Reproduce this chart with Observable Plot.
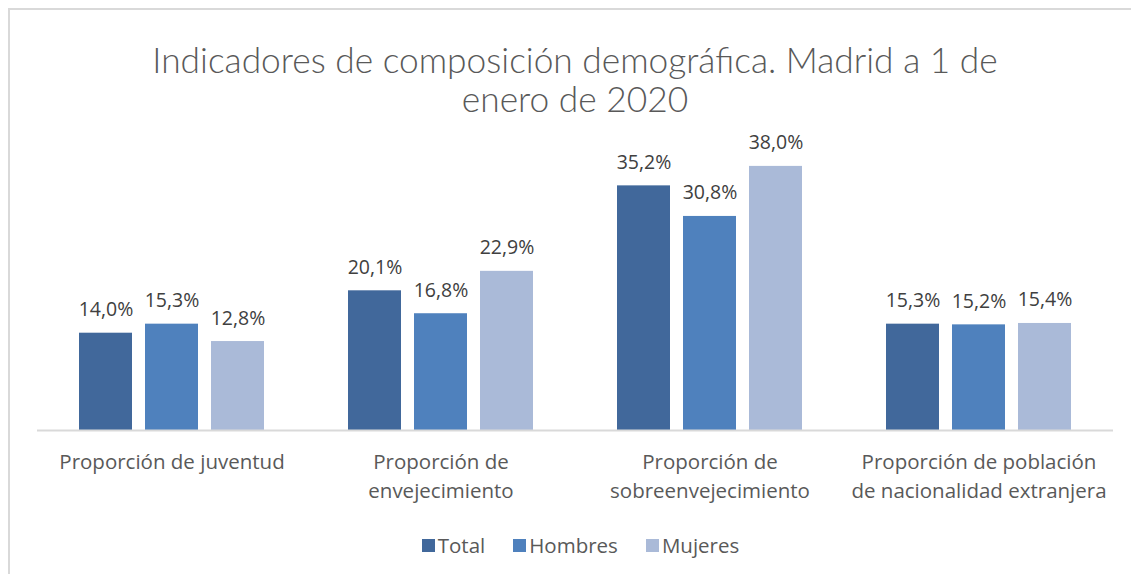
<!DOCTYPE html>
<html>
<head>
<meta charset="utf-8">
<script src="https://cdn.jsdelivr.net/npm/d3@7"></script>
<script src="https://cdn.jsdelivr.net/npm/@observablehq/plot@0.6"></script>
<style>
  html, body { margin: 0; padding: 0; background: #fff; }
  #wrap { position: relative; width: 1131px; height: 574px; overflow: hidden; font-family: "Open Sans", sans-serif; }
  #frame { position: absolute; left: 8px; top: 8px; right: -2px; bottom: -2px; border-left: 2px solid #d9d9d9; border-top: 2px solid #d9d9d9; }
  #title { position: absolute; left: 0; width: 1150px; top: 40px; text-align: center; font-family: Lato, sans-serif; font-weight: 300; font-size: 35.3px; line-height: 39px; color: #595959; }
  #chart { position: absolute; left: 0; top: 120px; }
  #legend { position: absolute; left: 0; width: 1131px; top: 531px; display: flex; justify-content: center; gap: 28px; font-size: 20.5px; color: #595959; padding-left: 30px; box-sizing: border-box; }
  #legend span.item { display: inline-flex; align-items: center; }
  #legend i { display: inline-block; width: 13px; height: 13px; margin-right: 3px; }
</style>
</head>
<body>
<div id="wrap">
  <div id="frame"></div>
  <div id="title">Indicadores de composición demográfica. Madrid a 1 de<br>enero de 2020</div>
  <div id="chart"></div>
  <div id="legend"></div>
</div>
<script>
const categories = [
  "Proporción de juventud",
  "Proporción de\nenvejecimiento",
  "Proporción de\nsobreenvejecimiento",
  "Proporción de población\nde nacionalidad extranjera"
];
const seriesNames = ["Total", "Hombres", "Mujeres"];
const totalValues   = [14.0, 20.1, 35.2, 15.3];
const hombresValues = [15.3, 16.8, 30.8, 15.2];
const mujeresValues = [12.8, 22.9, 38.0, 15.4];
const colors = ["#41689b", "#4f81bd", "#aabad8"];

const seriesValues = [totalValues, hombresValues, mujeresValues];
const data = [];
categories.forEach((c, i) => seriesNames.forEach((s, j) => data.push({category: c, series: s, value: seriesValues[j][i]})));
const fmt = v => v.toFixed(1).replace(".", ",") + "%";

const chart = Plot.plot({
  width: 1131,
  height: 390,
  marginTop: 32,
  marginBottom: 80,
  marginLeft: 37,
  marginRight: 18,
  style: {fontFamily: "Open Sans, sans-serif", background: "transparent"},
  fx: {domain: categories, padding: 0, axis: null},
  x: {domain: seriesNames, paddingInner: 0.194, paddingOuter: 0.605, axis: null},
  y: {domain: [0, 40], axis: null},
  color: {domain: seriesNames, range: colors},
  marks: [
    Plot.barY(data, {fx: "category", x: "series", y: "value", fill: "series"}),
    Plot.ruleY([0], {stroke: "#d9d9d9", strokeWidth: 2}),
    Plot.text(data, {fx: "category", x: "series", y: "value", text: d => fmt(d.value), lineAnchor: "bottom", dy: -17, fontSize: 19.5, fill: "#404040"}),
    Plot.text(categories, {fx: d => d, text: d => d, frameAnchor: "bottom", lineAnchor: "top", dy: 18, fontSize: 20.5, lineHeight: 1.41, fill: "#595959"})
  ]
});
document.getElementById("chart").appendChild(chart);

const legend = document.getElementById("legend");
seriesNames.forEach((s, j) => {
  const item = document.createElement("span");
  item.className = "item";
  const sw = document.createElement("i");
  sw.style.background = colors[j];
  item.appendChild(sw);
  item.appendChild(document.createTextNode(s));
  legend.appendChild(item);
});
</script>
</body>
</html>
